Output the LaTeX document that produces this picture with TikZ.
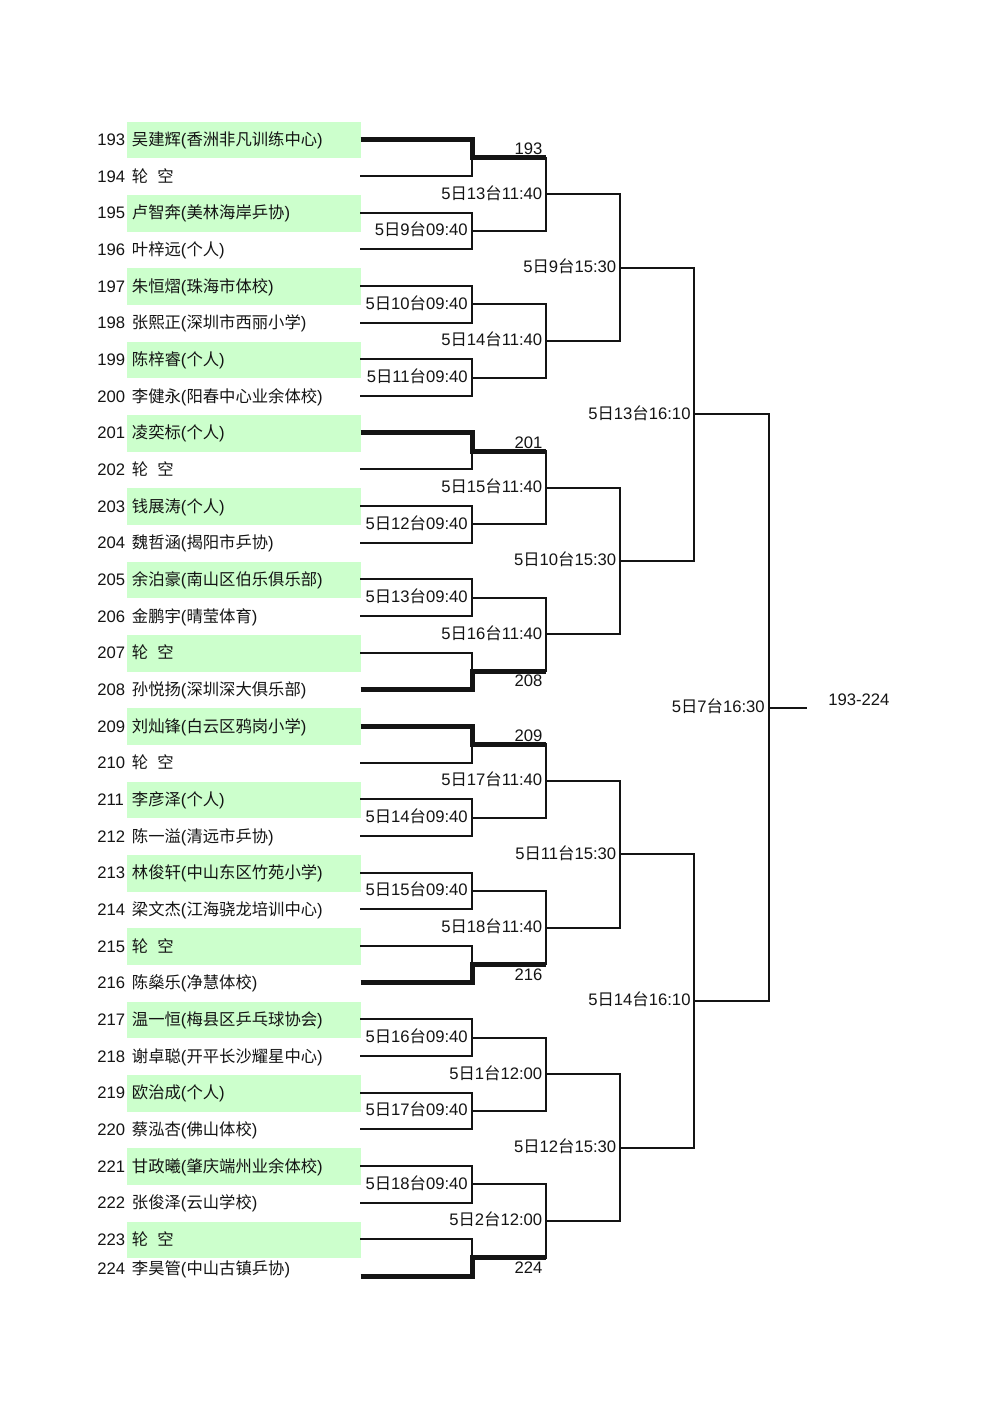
\documentclass[tikz,border=0pt]{standalone}
\usepackage{fontspec}
\setmainfont{Liberation Sans}
\newfontfamily\cjk[Scale=0.98]{Noto Sans CJK SC}
\usetikzlibrary{calc}
\definecolor{boxgreen}{RGB}{204,255,204}
\definecolor{ink}{RGB}{20,20,20}
\newcommand\zh[1]{{\cjk #1}}
\newcommand\pl[2]{\zh{#1}(\zh{#2})}
\newcommand\byeTxt{\zh{轮}\hspace{0.55em}\zh{空}}
\newcommand\mt[2]{5\zh{日}#1\zh{台}#2}
\begin{document}
\begin{tikzpicture}[x=0.75pt,y=-0.75pt,
  thinline/.style={line width=1.5pt, draw=ink, line cap=rect},
  thickline/.style={line width=3.75pt, draw=ink},
  txt/.style={inner sep=0pt, anchor=base west, font=\fontsize{12.5}{15}\selectfont, text=ink},
  lbl/.style={inner sep=0pt, anchor=base east, font=\fontsize{12.5}{15}\selectfont, text=ink},
]
\useasboundingbox (0,0) rectangle (1000,1414);
\fill[white] (0,0) rectangle (1000,1414);
% columns
\coordinate (c1) at (472,0);
\coordinate (c2) at (546,0);
\coordinate (c3) at (620,0);
\coordinate (c4) at (694.3,0);
\coordinate (c5) at (768.5,0);
\coordinate (fin) at (806,0);
% rows
\foreach \i in {0,...,31} {
  \pgfmathsetmacro\yy{139.33+36.667*\i}
  \coordinate (L\i) at (360.7,\yy);
  \coordinate (R\i) at (472,\yy);
}
% green boxes
\foreach \i in {0,2,...,30} {
  \pgfmathsetmacro\yy{139.33+36.667*\i}
  \fill[boxgreen] (127.3,\yy-17.6) rectangle (360.7,\yy+19);
}
% players
\foreach \i/\num/\who in {
  0/193/{\pl{吴建辉}{香洲非凡训练中心}},
  1/194/{\byeTxt},
  2/195/{\pl{卢智奔}{美林海岸乒协}},
  3/196/{\pl{叶梓远}{个人}},
  4/197/{\pl{朱恒熠}{珠海市体校}},
  5/198/{\pl{张熙正}{深圳市西丽小学}},
  6/199/{\pl{陈梓睿}{个人}},
  7/200/{\pl{李健永}{阳春中心业余体校}},
  8/201/{\pl{凌奕标}{个人}},
  9/202/{\byeTxt},
  10/203/{\pl{钱展涛}{个人}},
  11/204/{\pl{魏哲涵}{揭阳市乒协}},
  12/205/{\pl{余泊豪}{南山区伯乐俱乐部}},
  13/206/{\pl{金鹏宇}{晴莹体育}},
  14/207/{\byeTxt},
  15/208/{\pl{孙悦扬}{深圳深大俱乐部}},
  16/209/{\pl{刘灿锋}{白云区鸦岗小学}},
  17/210/{\byeTxt},
  18/211/{\pl{李彦泽}{个人}},
  19/212/{\pl{陈一溢}{清远市乒协}},
  20/213/{\pl{林俊轩}{中山东区竹苑小学}},
  21/214/{\pl{梁文杰}{江海骁龙培训中心}},
  22/215/{\byeTxt},
  23/216/{\pl{陈燊乐}{净慧体校}},
  24/217/{\pl{温一恒}{梅县区乒乓球协会}},
  25/218/{\pl{谢卓聪}{开平长沙耀星中心}},
  26/219/{\pl{欧治成}{个人}},
  27/220/{\pl{蔡泓杏}{佛山体校}},
  28/221/{\pl{甘政曦}{肇庆端州业余体校}},
  29/222/{\pl{张俊泽}{云山学校}},
  30/223/{\byeTxt}} {
  \pgfmathsetmacro\yy{139.33+36.667*\i+6}
  \node[txt] (n\num) at (97,\yy) {\num};
  \node[txt] (t\num) at (131.7,\yy) {\who};
}
\node[txt] (n224) at (97,1274) {224};
\node[txt] (t224) at (131.7,1274) {\pl{李昊管}{中山古镇乒协}};
% round 1 midpoints
\foreach \k in {0,...,15} {
  \pgfmathtruncatemacro\a{2*\k}
  \pgfmathtruncatemacro\b{2*\k+1}
  \coordinate (A\k) at ($(R\a)!0.5!(R\b)$);
  \coordinate (AE\k) at (c2|-A\k);
}
% round 1 normal matches
\foreach \k/\tb in {1/9,2/10,3/11,5/12,6/13,9/14,10/15,12/16,13/17,14/18} {
  \pgfmathtruncatemacro\a{2*\k}
  \pgfmathtruncatemacro\b{2*\k+1}
  \draw[thinline] (L\a) -- (R\a) -- (R\b) -- (L\b);
  \draw[thinline] (A\k) -- (AE\k);
  \node[lbl] (la\k) at ($(A\k)+(-4,4.7)$) {\mt{\tb}{09:40}};
}
% round 1 byes, top player advances
\foreach \k/\num in {0/193,4/201,8/209} {
  \pgfmathtruncatemacro\a{2*\k}
  \pgfmathtruncatemacro\b{2*\k+1}
  \draw[thinline] (L\b) -- (R\b) -- (A\k);
  \draw[thickline] (L\a) -- (R\a) -- (A\k) -- (AE\k);
  \node[lbl] (la\k) at ($(AE\k)+(-3.3,-2.7)$) {\num};
}
% round 1 byes, bottom player advances
\foreach \k/\num in {7/208,11/216,15/224} {
  \pgfmathtruncatemacro\a{2*\k}
  \pgfmathtruncatemacro\b{2*\k+1}
  \draw[thinline] (L\a) -- (R\a) -- (A\k);
  \draw[thickline] (L\b) -- (R\b) -- (A\k) -- (AE\k);
  \node[lbl] (la\k) at ($(AE\k)+(-3.3,15.9)$) {\num};
}
% round 2
\foreach \j/\tb/\tm in {0/13/11:40,1/14/11:40,2/15/11:40,3/16/11:40,4/17/11:40,5/18/11:40,6/1/12:00,7/2/12:00} {
  \pgfmathtruncatemacro\a{2*\j}
  \pgfmathtruncatemacro\b{2*\j+1}
  \coordinate (B\j) at ($(AE\a)!0.5!(AE\b)$);
  \coordinate (BE\j) at (c3|-B\j);
  \draw[thinline] (AE\a) -- (AE\b);
  \draw[thinline] (B\j) -- (BE\j);
  \node[lbl] (lb\j) at ($(B\j)+(-3.5,4.7)$) {\mt{\tb}{\tm}};
}
% round 3
\foreach \j/\tb in {0/9,1/10,2/11,3/12} {
  \pgfmathtruncatemacro\a{2*\j}
  \pgfmathtruncatemacro\b{2*\j+1}
  \coordinate (C\j) at ($(BE\a)!0.5!(BE\b)$);
  \coordinate (CE\j) at (c4|-C\j);
  \draw[thinline] (BE\a) -- (BE\b);
  \draw[thinline] (C\j) -- (CE\j);
  \node[lbl] (lc\j) at ($(C\j)+(-3.5,4.7)$) {\mt{\tb}{15:30}};
}
% round 4
\foreach \j/\tb in {0/13,1/14} {
  \pgfmathtruncatemacro\a{2*\j}
  \pgfmathtruncatemacro\b{2*\j+1}
  \coordinate (D\j) at ($(CE\a)!0.5!(CE\b)$);
  \coordinate (DE\j) at (c5|-D\j);
  \draw[thinline] (CE\a) -- (CE\b);
  \draw[thinline] (D\j) -- (DE\j);
  \node[lbl] (ld\j) at ($(D\j)+(-3.5,4.7)$) {\mt{\tb}{16:10}};
}
% round 5
\coordinate (E0) at ($(DE0)!0.5!(DE1)$);
\coordinate (EE0) at (fin|-E0);
\draw[thinline] (DE0) -- (DE1);
\draw[thinline] (E0) -- (EE0);
\node[lbl] (le0) at ($(E0)+(-3.5,4.7)$) {\mt{7}{16:30}};
\node[txt] (res) at ($(EE0)+(22,-2.3)$) {193-224};
\end{tikzpicture}
\end{document}
